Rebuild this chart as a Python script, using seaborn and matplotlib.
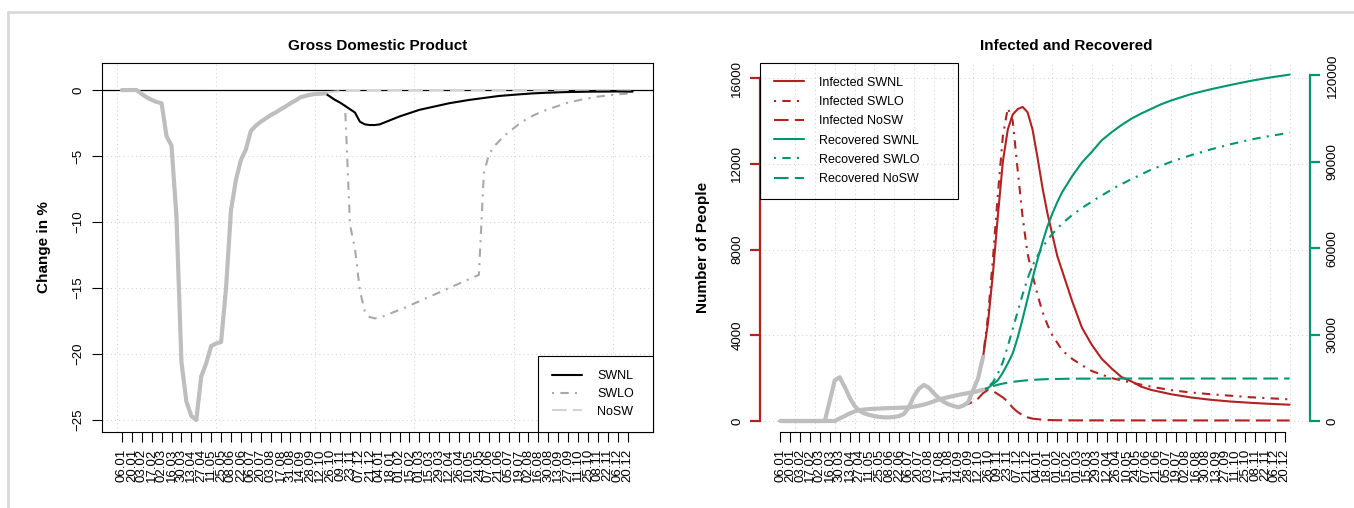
import numpy as np
import pandas as pd
import matplotlib
matplotlib.use("Agg")
import matplotlib.pyplot as plt
from matplotlib.lines import Line2D
import seaborn as sns

# x axis: week index 1..104 (06.01.2020 - 27.12.2021), labels every 2 weeks
tick_labels = ['06.01', '20.01', '03.02', '17.02', '02.03', '16.03', '30.03', '13.04', '27.04',
               '11.05', '25.05', '08.06', '22.06', '06.07', '20.07', '03.08', '17.08', '31.08',
               '14.09', '28.09', '12.10', '26.10', '09.11', '23.11', '07.12', '21.12', '04.01',
               '18.01', '01.02', '15.02', '01.03', '15.03', '29.03', '12.04', '26.04', '10.05',
               '24.05', '07.06', '21.06', '05.07', '19.07', '02.08', '16.08', '30.08', '13.09',
               '27.09', '11.10', '25.10', '08.11', '22.11', '06.12', '20.12']

# ---- GDP (change in %) ----
gdp_hist_wk = list(range(1, 43))
gdp_hist = [0, 0, 0, 0, -0.3, -0.55, -0.75, -0.9, -1.0, -3.5, -4.2, -9.6, -20.6, -23.6, -24.7,
            -25.0, -21.7, -20.7, -19.4, -19.2, -19.1, -15.0, -9.1, -6.8, -5.3, -4.5, -3.1, -2.7,
            -2.4, -2.15, -1.9, -1.7, -1.46, -1.25, -1.0, -0.8, -0.55, -0.45, -0.35, -0.3, -0.28, -0.25]

gdp_swnl_wk = [42, 43, 44, 45, 46, 47, 48, 49, 50, 51, 52, 53, 54, 55, 56, 57, 59, 61, 64, 67,
               71, 74, 77, 81, 84, 87, 91, 96, 101, 104]
gdp_swnl = [-0.25, -0.5, -0.75, -0.95, -1.2, -1.45, -1.7, -2.4, -2.6, -2.65, -2.65, -2.6, -2.45,
            -2.3, -2.15, -2.0, -1.75, -1.5, -1.25, -1.0, -0.75, -0.6, -0.45, -0.33, -0.25, -0.2,
            -0.15, -0.12, -0.11, -0.12]

gdp_swlo_wk = [42, 43, 44, 45, 46, 47, 48, 49, 50, 51, 52, 53, 54, 56, 58, 61, 64, 67, 70, 73,
               74, 75, 76, 77, 78, 79, 80, 81, 83, 85, 87, 89, 91, 94, 97, 101, 104]
gdp_swlo = [-0.25, -0.5, -0.75, -0.95, -1.1, -10.2, -12.0, -15.2, -16.8, -17.2, -17.3, -17.25,
            -17.1, -16.8, -16.5, -16.0, -15.5, -15.0, -14.5, -14.0, -6.3, -4.9, -4.3, -3.9, -3.5,
            -3.2, -2.9, -2.6, -2.1, -1.75, -1.45, -1.2, -0.95, -0.7, -0.5, -0.32, -0.25]

gdp_nosw_wk = [42, 43, 45, 49, 56, 104]
gdp_nosw = [-0.25, -0.15, -0.08, -0.03, -0.01, 0.0]

gdp_yticks = [0, -5, -10, -15, -20, -25]

# ---- Infected (left axis) and Recovered (right axis) ----
inf_hist_wk = list(range(1, 43))
inf_hist = [0, 0, 0, 0, 0, 0, 0, 0, 0, 0, 950, 1900, 2040, 1600, 1100, 700, 480, 350, 280, 230,
            190, 170, 170, 190, 230, 330, 650, 1150, 1500, 1680, 1560, 1300, 1080, 900, 780, 700,
            640, 720, 880, 1445, 2000, 3000]

rec_hist_wk = list(range(1, 43))
rec_hist = [0] * 12 + [900, 1700, 2600, 3300, 3800, 4000, 4150, 4250, 4330, 4400, 4480, 4550,
                       4600, 4650, 4750, 5000, 5300, 5700, 6200, 6800, 7400, 7900, 8300, 8700,
                       9050, 9400, 9700, 10000, 10400, 10900]

inf_swnl_wk = [42, 43, 44, 45, 46, 47, 48, 49, 50, 51, 52, 53, 54, 55, 56, 57, 58, 60, 62, 64,
               66, 68, 70, 72, 74, 76, 80, 84, 88, 92, 96, 100, 104]
inf_swnl = [3000, 4600, 6900, 9600, 12100, 13600, 14300, 14550, 14650, 14400, 13600, 12300, 10900,
            9700, 8700, 7700, 7000, 5600, 4350, 3550, 2900, 2450, 2050, 1850, 1600, 1450, 1250,
            1100, 990, 910, 850, 800, 760]

inf_swlo_wk = [42, 43, 44, 45, 46, 47, 48, 49, 50, 51, 52, 53, 54, 55, 56, 58, 60, 62, 64, 68,
               72, 76, 80, 84, 88, 92, 96, 100, 104]
inf_swlo = [3000, 4900, 7600, 10600, 13300, 14600, 14000, 11700, 9500, 7800, 6800, 5900, 5100,
            4500, 4000, 3300, 2900, 2600, 2330, 2000, 1790, 1600, 1440, 1330, 1250, 1180, 1110,
            1060, 1010]

inf_nosw_wk = [37, 38, 39, 40, 41, 42, 43, 44, 45, 46, 47, 48, 49, 50, 51, 52, 54, 56, 60, 104]
inf_nosw = [640, 720, 800, 900, 1050, 1300, 1450, 1400, 1250, 1100, 900, 620, 420, 270, 170,
            110, 60, 40, 30, 25]

rec_swnl_wk = [42, 43, 44, 45, 46, 47, 48, 49, 50, 51, 52, 53, 54, 55, 56, 57, 58, 60, 62, 64,
               66, 68, 70, 72, 74, 76, 78, 80, 84, 88, 92, 96, 100, 104]
rec_swnl = [10900, 11500, 12800, 14200, 16800, 20000, 23500, 29000, 35500, 42500, 49500, 56000,
            62000, 67500, 72000, 76000, 79500, 85000, 89800, 93500, 97500, 100300, 102800,
            105000, 106800, 108400, 110000, 111300, 113500, 115200, 116700, 118100, 119300, 120300]

rec_swlo_wk = [42, 43, 44, 45, 46, 47, 48, 49, 50, 51, 52, 53, 54, 55, 56, 58, 60, 62, 65, 69,
               72, 76, 80, 84, 88, 92, 96, 100, 104]
rec_swlo = [10900, 11800, 13500, 16500, 20500, 26000, 32000, 38000, 44000, 49500, 54000, 57300,
            60300, 62800, 65000, 68600, 71500, 74000, 77300, 81400, 84000, 87300, 90000, 92300,
            94300, 96100, 97700, 99000, 100100]

rec_nosw_wk = [40, 41, 42, 43, 44, 45, 46, 47, 48, 50, 52, 55, 60, 70, 104]
rec_nosw = [10000, 10400, 10900, 11500, 12100, 12600, 13000, 13300, 13600, 14000, 14300, 14550,
            14700, 14750, 14750]

inf_yticks = [0, 4000, 8000, 12000, 16000]
rec_yticks = [0, 30000, 60000, 90000, 120000]

# ---- style ----
sns.set_style("ticks")
plt.rcParams['font.family'] = ['Liberation Sans', 'DejaVu Sans']
plt.rcParams.update({'text.color': 'black', 'axes.labelcolor': 'black',
                     'xtick.color': 'black', 'ytick.color': 'black',
                     'axes.edgecolor': 'black', 'axes.linewidth': 0.8})

RED = '#B22222'
GREEN = '#00966E'
HIST = '#BEBEBE'
dotdash = (0, (1, 3, 4, 3))
longdash = (0, (7, 3))
dotted = (0, (1, 3))
lw = 1.5
xfs = 9.5

xlim = (1 - 0.04 * 103, 104 + 0.04 * 103)
xticks = list(range(1, 104, 2))

W, H = 1354, 508
fig = plt.figure(figsize=(W / 100, H / 100), dpi=100)
ax1 = fig.add_axes([101.5 / W, 76 / H, 551.5 / W, 369 / H])
ax = fig.add_axes([760 / W, 76 / H, 550 / W, 369 / H])

# ================= left: GDP =================
for g in range(0, 101, 20):
    ax1.axvline(g, color='#D3D3D3', lw=0.75, ls=dotted, zorder=0)
for g in gdp_yticks[1:]:
    ax1.axhline(g, color='#D3D3D3', lw=0.75, ls=dotted, zorder=0)
ax1.axhline(0, color='black', lw=0.9, zorder=1)

sns.lineplot(x=gdp_nosw_wk, y=gdp_nosw, ax=ax1, color='#D3D3D3', lw=lw, linestyle=longdash,
             legend=False, zorder=2)
sns.lineplot(x=gdp_swlo_wk, y=gdp_swlo, ax=ax1, color='#A9A9A9', lw=lw, linestyle=dotdash,
             legend=False, zorder=2)
sns.lineplot(x=gdp_swnl_wk, y=gdp_swnl, ax=ax1, color='black', lw=lw, legend=False, zorder=3)
sns.lineplot(x=gdp_hist_wk, y=gdp_hist, ax=ax1, color=HIST, lw=3, legend=False, zorder=4)

ax1.set_xlim(*xlim)
ax1.set_ylim(-25.91, 2.05)
ax1.set_xticks(xticks)
ax1.set_xticklabels(tick_labels, rotation=90, fontsize=xfs)
ax1.set_yticks(gdp_yticks)
ax1.set_yticklabels([str(v).replace('-', '\u2212') for v in gdp_yticks], rotation=90,
                    fontsize=9.5, va='center')
ax1.tick_params(length=7, width=0.8, pad=5)
ax1.set_title('Gross Domestic Product', fontweight='bold', fontsize=11, pad=9)
ax1.set_ylabel('Change in %', fontweight='bold', fontsize=11)
ax1.yaxis.set_label_coords(-0.0907, 0.5)
ax1.set_xlabel('')

h1 = [Line2D([], [], color='black', lw=lw),
      Line2D([], [], color='#A9A9A9', lw=lw, ls=dotdash),
      Line2D([], [], color='#D3D3D3', lw=lw, ls=longdash)]
leg1 = ax1.legend(h1, ['SWNL', 'SWLO', 'NoSW'], loc='lower left', mode='expand',
                  bbox_to_anchor=(0.7915, 0, 0.2085, 0.2), borderaxespad=0,
                  fancybox=False, edgecolor='black', framealpha=1, fontsize=9,
                  handlelength=2.4, handletextpad=1.2, borderpad=1.15, labelspacing=0.45)
leg1.get_frame().set_linewidth(0.8)

# ================= right: Infected / Recovered =================
ax2 = ax.twinx()
ax2.set_position(ax.get_position())

for g in range(4, 105, 4):
    ax.axvline(g, color='#D3D3D3', lw=0.75, ls=dotted, zorder=0)
for g in inf_yticks:
    ax.axhline(g, color='#D3D3D3', lw=0.75, ls=dotted, zorder=0)

sns.lineplot(x=inf_nosw_wk, y=inf_nosw, ax=ax, color=RED, lw=lw, linestyle=longdash, legend=False)
sns.lineplot(x=inf_swlo_wk, y=inf_swlo, ax=ax, color=RED, lw=lw, linestyle=dotdash, legend=False)
sns.lineplot(x=inf_swnl_wk, y=inf_swnl, ax=ax, color=RED, lw=lw, legend=False)
sns.lineplot(x=inf_hist_wk, y=inf_hist, ax=ax, color=HIST, lw=3, legend=False)

sns.lineplot(x=rec_nosw_wk, y=rec_nosw, ax=ax2, color=GREEN, lw=lw, linestyle=longdash, legend=False)
sns.lineplot(x=rec_swlo_wk, y=rec_swlo, ax=ax2, color=GREEN, lw=lw, linestyle=dotdash, legend=False)
sns.lineplot(x=rec_swnl_wk, y=rec_swnl, ax=ax2, color=GREEN, lw=lw, legend=False)
sns.lineplot(x=rec_hist_wk, y=rec_hist, ax=ax2, color=HIST, lw=3, legend=False)

ax.set_xlim(*xlim)
ax2.set_xlim(*xlim)
ax.set_ylim(-513, 16700)
ax2.set_ylim(-3820, 124340)

ax.set_xticks(xticks)
ax.set_xticklabels(tick_labels, rotation=90, fontsize=xfs)
ax.set_yticks(inf_yticks)
ax.set_yticklabels([str(v) for v in inf_yticks], rotation=90, fontsize=9.5, va='center')
ax2.set_yticks(rec_yticks)
ax2.set_yticklabels([str(v) for v in rec_yticks], rotation=90, fontsize=9.5, va='center')

for s in ['top', 'right']:
    ax.spines[s].set_visible(False)
for s in ['top', 'left', 'bottom']:
    ax2.spines[s].set_visible(False)
ax.spines['bottom'].set_bounds(1, 103)
ax.spines['left'].set_bounds(0, 16000)
ax.spines['left'].set_color(RED)
ax.spines['left'].set_linewidth(1.6)
ax2.spines['right'].set_bounds(0, 120000)
ax2.spines['right'].set_color(GREEN)
ax2.spines['right'].set_linewidth(1.6)
ax.tick_params(axis='x', length=7, width=0.8, pad=5)
ax.tick_params(axis='y', length=7, width=1.6, color=RED, pad=5)
ax2.tick_params(axis='y', length=7, width=1.6, color=GREEN, pad=5)

ax.set_title('Infected and Recovered', fontweight='bold', fontsize=11, pad=9, x=0.556)
ax.set_ylabel('Number of People', fontweight='bold', fontsize=11)
ax.yaxis.set_label_coords(-0.09, 0.5)
ax.set_xlabel('')
ax2.set_ylabel('')

h2 = [Line2D([], [], color=RED, lw=lw),
      Line2D([], [], color=RED, lw=lw, ls=dotdash),
      Line2D([], [], color=RED, lw=lw, ls=longdash),
      Line2D([], [], color=GREEN, lw=lw),
      Line2D([], [], color=GREEN, lw=lw, ls=dotdash),
      Line2D([], [], color=GREEN, lw=lw, ls=longdash)]
l2 = ['Infected SWNL', 'Infected SWLO', 'Infected NoSW',
      'Recovered SWNL', 'Recovered SWLO', 'Recovered NoSW']
leg2 = ax2.legend(h2, l2, loc='upper left', mode='expand',
                  bbox_to_anchor=(0, 0.5, 198 / 550, 0.5), borderaxespad=0, fancybox=False,
                  edgecolor='black', facecolor='none', framealpha=1, fontsize=9,
                  handlelength=2.4, handletextpad=1.2, borderpad=1.1, labelspacing=0.58)
leg2.get_frame().set_linewidth(0.8)

# light page border
fig.add_artist(Line2D([8 / W, 8 / W], [0, 1 - 12 / H], color='#D9D9D9', lw=2,
                      transform=fig.transFigure))
fig.add_artist(Line2D([8 / W, 1], [1 - 12 / H, 1 - 12 / H], color='#D9D9D9', lw=2,
                      transform=fig.transFigure))

fig.savefig('out.png', dpi=100)
